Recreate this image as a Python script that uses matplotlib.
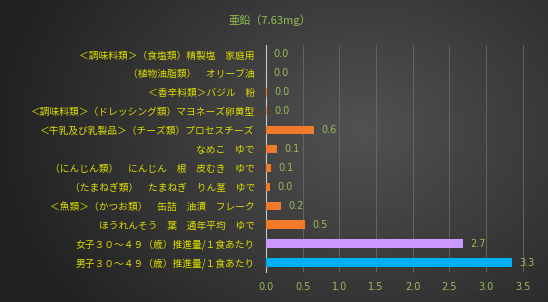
import numpy as np
import matplotlib
matplotlib.use("Agg")
import matplotlib.pyplot as plt

plt.rcParams['font.family'] = ['Noto Sans CJK JP', 'DejaVu Sans']

# 上から順
labels = [
    "＜調味料類＞（食塩類）精製塩　家庭用",
    "（植物油脂類）　オリーブ油",
    "＜香辛料類＞バジル　粉",
    "＜調味料類＞（ドレッシング類）マヨネーズ卵黄型",
    "＜牛乳及び乳製品＞（チーズ類）プロセスチーズ",
    "なめこ　ゆで",
    "（にんじん類）　にんじん　根　皮むき　ゆで",
    "（たまねぎ類）　たまねぎ　りん茎　ゆで",
    "＜魚類＞（かつお類）　缶詰　油漬　フレーク",
    "ほうれんそう　葉　通年平均　ゆで",
    "女子３０～４９（歳）推進量/１食あたり",
    "男子３０～４９（歳）推進量/１食あたり",
]
values = [0.0, 0.0, 0.01, 0.01, 0.65, 0.15, 0.07, 0.05, 0.2, 0.53, 2.68, 3.35]
value_text = ["0.0", "0.0", "0.0", "0.0", "0.6", "0.1", "0.1", "0.0", "0.2", "0.5", "2.7", "3.3"]
colors = ["#F07A2A"] * 10 + ["#CC99FF", "#00B0F0"]
xticks = [0.0, 0.5, 1.0, 1.5, 2.0, 2.5, 3.0, 3.5]

W, H = 548, 302
fig = plt.figure(figsize=(W / 100, H / 100), dpi=100)

# 背景グラデーション
bg = fig.add_axes([0, 0, 1, 1])
yy, xx = np.mgrid[0:H, 0:W]
d = np.sqrt(((xx - 360) / 330.0) ** 2 + ((yy - 130) / 260.0) ** 2)
g = np.clip(0.32 - 0.17 * d, 0.13, 0.32)
bg.imshow(np.dstack([g, g, g]), aspect='auto', extent=[0, 1, 0, 1])
bg.axis('off')

ax = fig.add_axes([266 / W, 1 - 272 / H, (530 - 266) / W, (272 - 45) / H])
ax.patch.set_alpha(0)
n = len(labels)
ypos = np.arange(n)
ax.barh(ypos, values, height=0.45, color=colors, zorder=3)
for y, v, t in zip(ypos, values, value_text):
    ax.text(v + 0.1, y, t, va='center', ha='left', color='#9BBB59', fontsize=7,
            family=['DejaVu Sans'])
ax.set_ylim(n - 0.5, -0.5)
ax.set_xlim(0, 3.6)
ax.set_xticks(xticks)
ax.set_xticklabels([f"{x:.1f}" for x in xticks], color='#9BBB59', fontsize=7,
                   family=['DejaVu Sans'])
ax.set_yticks(ypos)
ax.set_yticklabels(labels, color='#DCDC00', fontsize=7)
ax.tick_params(axis='both', length=0)
ax.tick_params(axis='y', pad=8)
ax.tick_params(axis='x', pad=7)
ax.grid(axis='x', color='#6a6a6a', linewidth=0.6, zorder=0)
for s in ['top', 'right', 'bottom']:
    ax.spines[s].set_visible(False)
ax.spines['left'].set_color('#c8c8c8')
ax.spines['left'].set_linewidth(0.8)

fig.text(270 / W, 1 - 20 / H, "亜鉛（7.63mg）", ha='center', va='center',
         color='#92C050', fontsize=8)

fig.savefig("out.png", dpi=100)
